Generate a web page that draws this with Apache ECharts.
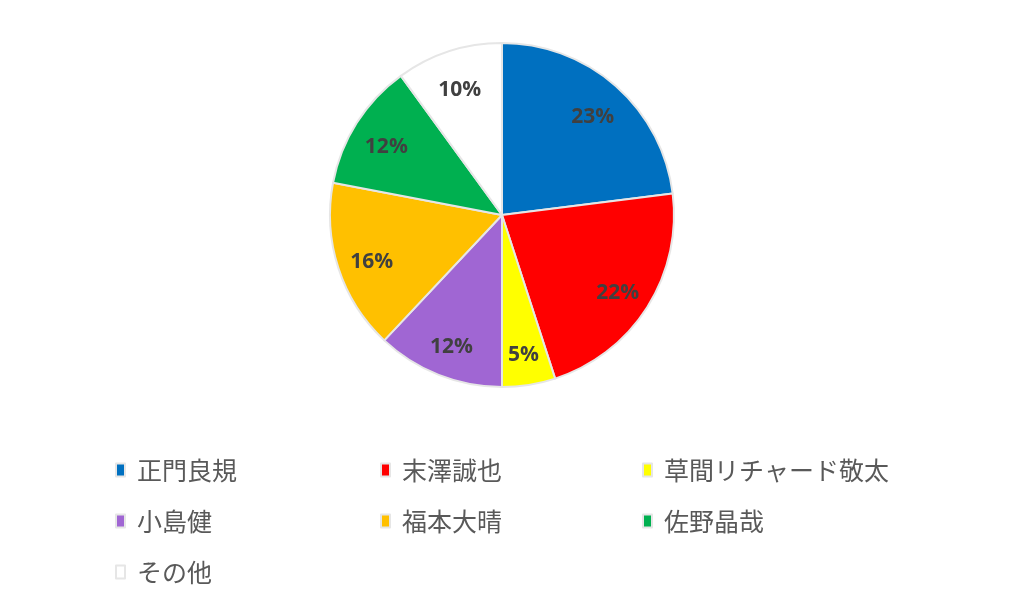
<!DOCTYPE html>
<html>
<head>
<meta charset="utf-8">
<script src="https://cdn.jsdelivr.net/npm/echarts@6/dist/echarts.min.js"></script>
<style>
  html, body { margin: 0; padding: 0; background: #fff; }
  #main { width: 1024px; height: 602px; }
</style>
</head>
<body>
<div id="main"></div>
<script>
// 名前と割合（%）
var names = ['正門良規', '末澤誠也', '草間リチャード敬太', '小島健', '福本大晴', '佐野晶哉', 'その他'];
var values = [23, 22, 5, 12, 16, 12, 10];
var colors = ['#0070c0', '#ff0000', '#ffff00', '#a066d3', '#ffc000', '#00b050', '#ffffff'];

// 凡例の列
var legendCols = [
  ['正門良規', '小島健', 'その他'],
  ['末澤誠也', '福本大晴'],
  ['草間リチャード敬太', '佐野晶哉']
];
var legendLeft = [115, 380, 642];

var chartDom = document.getElementById('main');
var myChart = echarts.init(chartDom);

var pieData = names.map(function(n, i) {
  return { name: n, value: values[i], itemStyle: { color: colors[i] } };
});

var legends = legendCols.map(function(col, i) {
  return {
    orient: 'vertical',
    left: legendLeft[i],
    top: 457,
    padding: 0,
    data: col,
    icon: 'rect',
    itemWidth: 9,
    itemHeight: 13,
    itemGap: 25,
    selectedMode: false,
    textStyle: {
      fontFamily: 'Noto Sans CJK JP',
      fontSize: 25,
      lineHeight: 26,
      color: '#595959',
      padding: [0, 0, 0, 7]
    }
  };
});

var option = {
  backgroundColor: '#ffffff',
  animation: false,
  legend: legends,
  series: [
    {
      name: 'main',
      type: 'pie',
      center: [502, 215],
      radius: 172,
      startAngle: 90,
      clockwise: true,
      data: pieData,
      itemStyle: { borderColor: '#e6e6e6', borderWidth: 2 },
      label: { show: false },
      labelLine: { show: false },
      emphasis: { disabled: true }
    },
    {
      // ラベル用（外周寄りに置くための透明なリング）
      name: 'labels',
      type: 'pie',
      center: [502, 220],
      radius: [100, 168],
      startAngle: 90,
      clockwise: true,
      silent: true,
      data: names.map(function(n, i) {
        return { name: n, value: values[i] };
      }),
      itemStyle: { color: 'rgba(0,0,0,0)', borderWidth: 0 },
      label: {
        show: true,
        position: 'inside',
        formatter: '{c}%',
        fontFamily: 'Open Sans',
        fontWeight: 'bold',
        fontSize: 21,
        color: '#404040'
      },
      labelLine: { show: false },
      emphasis: { disabled: true }
    }
  ]
};

option && myChart.setOption(option);
</script>
</body>
</html>
